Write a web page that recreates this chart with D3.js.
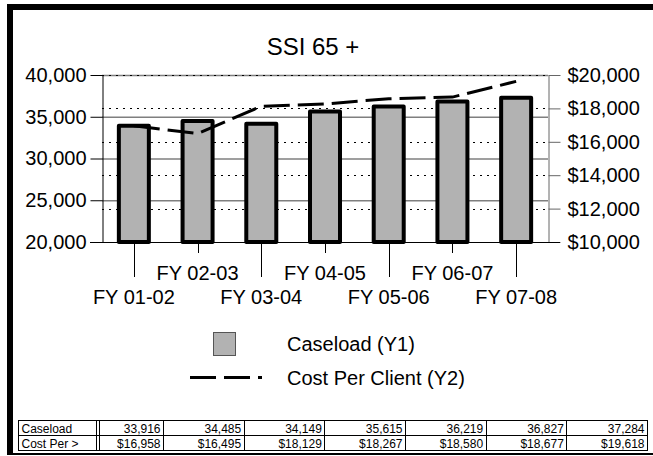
<!DOCTYPE html>
<html>
<head>
<meta charset="utf-8">
<script src="https://cdn.jsdelivr.net/npm/d3@7"></script>
<style>
  body { margin: 0; background: #fff; }
  svg { display: block; }
  text { font-family: "Liberation Sans", Arial, Helvetica, sans-serif; fill: #000; }
</style>
</head>
<body>
<svg id="chart" width="653" height="456"></svg>
<script>
// Fiscal years shown along the bottom
const years = ["FY 01-02", "FY 02-03", "FY 03-04", "FY 04-05", "FY 05-06", "FY 06-07", "FY 07-08"];
// Caseload (left axis)
const caseload = [33916, 34485, 34149, 35615, 36219, 36827, 37284];
// Cost per client in dollars (right axis)
const costPerClient = [16958, 16495, 18129, 18267, 18580, 18677, 19618];
// Axis ticks
const y1Ticks = [20000, 25000, 30000, 35000, 40000];
const y2Ticks = [10000, 12000, 14000, 16000, 18000, 20000];
// Series names
const seriesNames = ["Caseload (Y1)", "Cost Per Client (Y2)"];
const tableRowLabels = ["Caseload", "Cost Per >"];

const svg = d3.select("#chart");
const FONT = 20;

// Frame
svg.append("rect").attr("x", 7).attr("y", 4).attr("width", 6).attr("height", 451).attr("fill", "#000");
svg.append("rect").attr("x", 7).attr("y", 4).attr("width", 646).attr("height", 6).attr("fill", "#000");
svg.append("rect").attr("x", 7).attr("y", 453).attr("width", 646).attr("height", 2).attr("fill", "#000");

// Title
svg.append("text").attr("x", 313).attr("y", 55).attr("text-anchor", "middle")
  .style("font-size", "24px").text("SSI 65 +");

// Scales
const plot = { left: 102, right: 548, top: 75, bottom: 242 };
const x = d3.scaleBand().domain(years).range([plot.left, plot.right]);
const y1 = d3.scaleLinear().domain([20000, 40000]).range([plot.bottom, plot.top]);
const y2 = d3.scaleLinear().domain([10000, 20000]).range([plot.bottom, plot.top]);
const cx = d => x(d) + x.bandwidth() / 2;

// Solid gridlines from the left axis
svg.append("g").selectAll("line").data(y1Ticks.slice(1)).join("line")
  .attr("x1", plot.left).attr("x2", plot.right)
  .attr("y1", d => y1(d) + 0.5).attr("y2", d => y1(d) + 0.5)
  .attr("stroke", "#7f7f7f").attr("stroke-width", 1.4);

// Dotted gridlines from the right axis
svg.append("g").selectAll("line").data(y2Ticks.slice(1)).join("line")
  .attr("x1", plot.left).attr("x2", plot.right)
  .attr("y1", d => Math.round(y2(d)) + 0.5).attr("y2", d => Math.round(y2(d)) + 0.5)
  .attr("stroke", "#000").attr("stroke-width", 1).attr("stroke-dasharray", "2,5");

// Left axis
const axL = svg.append("g").attr("transform", `translate(${plot.left + 0.5},0)`)
  .call(d3.axisLeft(y1).tickValues(y1Ticks).tickSize(12).tickSizeOuter(0).tickPadding(4)
    .tickFormat(d3.format(",")));
axL.selectAll("text").style("font-size", FONT + "px").style("font-family", null);
axL.select(".domain").attr("stroke", "#000");

// Right axis
const axR = svg.append("g").attr("transform", `translate(${plot.right + 0.5},0)`)
  .call(d3.axisRight(y2).tickValues(y2Ticks).tickSize(12).tickSizeOuter(0).tickPadding(7)
    .tickFormat(d => "$" + d3.format(",")(d)));
axR.selectAll("text").style("font-size", FONT + "px").style("font-family", null);
axR.select(".domain").attr("stroke", "#666");
axR.selectAll(".tick line").attr("stroke", "#666");

// Baseline
svg.append("line").attr("x1", 90).attr("x2", 560)
  .attr("y1", plot.bottom + 0.5).attr("y2", plot.bottom + 0.5).attr("stroke", "#000");

// Category ticks and staggered labels
const cat = svg.append("g");
cat.selectAll("line").data(years).join("line")
  .attr("x1", d => Math.round(cx(d)) + 0.5).attr("x2", d => Math.round(cx(d)) + 0.5)
  .attr("y1", plot.bottom).attr("y2", (d, i) => i % 2 === 0 ? 277 : 253)
  .attr("stroke", "#000");
cat.selectAll("text").data(years).join("text")
  .attr("x", d => cx(d)).attr("y", (d, i) => i % 2 === 0 ? 304 : 280)
  .attr("text-anchor", "middle").style("font-size", FONT + "px").text(d => d);

// Caseload bars
const barW = 30;
svg.append("g").selectAll("rect").data(caseload).join("rect")
  .attr("x", (d, i) => cx(years[i]) - barW / 2)
  .attr("y", d => y1(d))
  .attr("width", barW)
  .attr("height", d => plot.bottom - y1(d))
  .attr("fill", "#b2b2b2").attr("stroke", "#000").attr("stroke-width", 4)
  .attr("stroke-linejoin", "round");

// Cost per client line
const line = d3.line().x((d, i) => cx(years[i])).y(d => y2(d));
svg.append("path").datum(costPerClient).attr("d", line)
  .attr("fill", "none").attr("stroke", "#000").attr("stroke-width", 3)
  .attr("stroke-dasharray", "26,8");

// Legend
const lg = svg.append("g");
lg.append("rect").attr("x", 213.5).attr("y", 332.5).attr("width", 22).attr("height", 23)
  .attr("fill", "#b2b2b2").attr("stroke", "#555");
lg.append("text").attr("x", 287).attr("y", 351).style("font-size", FONT + "px").text(seriesNames[0]);
lg.append("line").attr("x1", 190).attr("x2", 262).attr("y1", 377.5).attr("y2", 377.5)
  .attr("stroke", "#000").attr("stroke-width", 3).attr("stroke-dasharray", "26,8");
lg.append("text").attr("x", 287).attr("y", 385).style("font-size", FONT + "px").text(seriesNames[1]);

// Data table
const tbl = svg.append("g");
const tTop = 420.5, rowH = 15, tLeft = 18.5, labRight = 96.5, dataLeft = 99.5, tRight = 647.5;
const colEdges = [dataLeft];
const firstW = 64;
colEdges.push(dataLeft + firstW);
const restW = (tRight - colEdges[1]) / 6;
for (let k = 1; k <= 6; k++) colEdges.push(colEdges[1] + restW * k);

tbl.append("rect").attr("x", tLeft).attr("y", tTop).attr("width", tRight - tLeft).attr("height", rowH * 2)
  .attr("fill", "none").attr("stroke", "#000");
tbl.append("line").attr("x1", tLeft).attr("x2", tRight).attr("y1", tTop + rowH).attr("y2", tTop + rowH).attr("stroke", "#000");
tbl.append("line").attr("x1", labRight).attr("x2", labRight).attr("y1", tTop).attr("y2", tTop + 2 * rowH).attr("stroke", "#000");
tbl.selectAll(".col").data(colEdges.slice(0, 7)).join("line")
  .attr("x1", d => Math.round(d - 0.5) + 0.5).attr("x2", d => Math.round(d - 0.5) + 0.5)
  .attr("y1", tTop).attr("y2", tTop + 2 * rowH).attr("stroke", "#000");

const rows = [caseload.map(d3.format(",")), costPerClient.map(d => "$" + d3.format(",")(d))];
rows.forEach((vals, r) => {
  const ty = tTop + rowH * r + 12;
  tbl.append("text").attr("x", tLeft + 3).attr("y", ty).style("font-size", "12px").text(tableRowLabels[r]);
  tbl.selectAll(".v" + r).data(vals).join("text")
    .attr("x", (d, i) => colEdges[i + 1] - 3).attr("y", ty)
    .attr("text-anchor", "end").style("font-size", "12px").text(d => d);
});
</script>
</body>
</html>
